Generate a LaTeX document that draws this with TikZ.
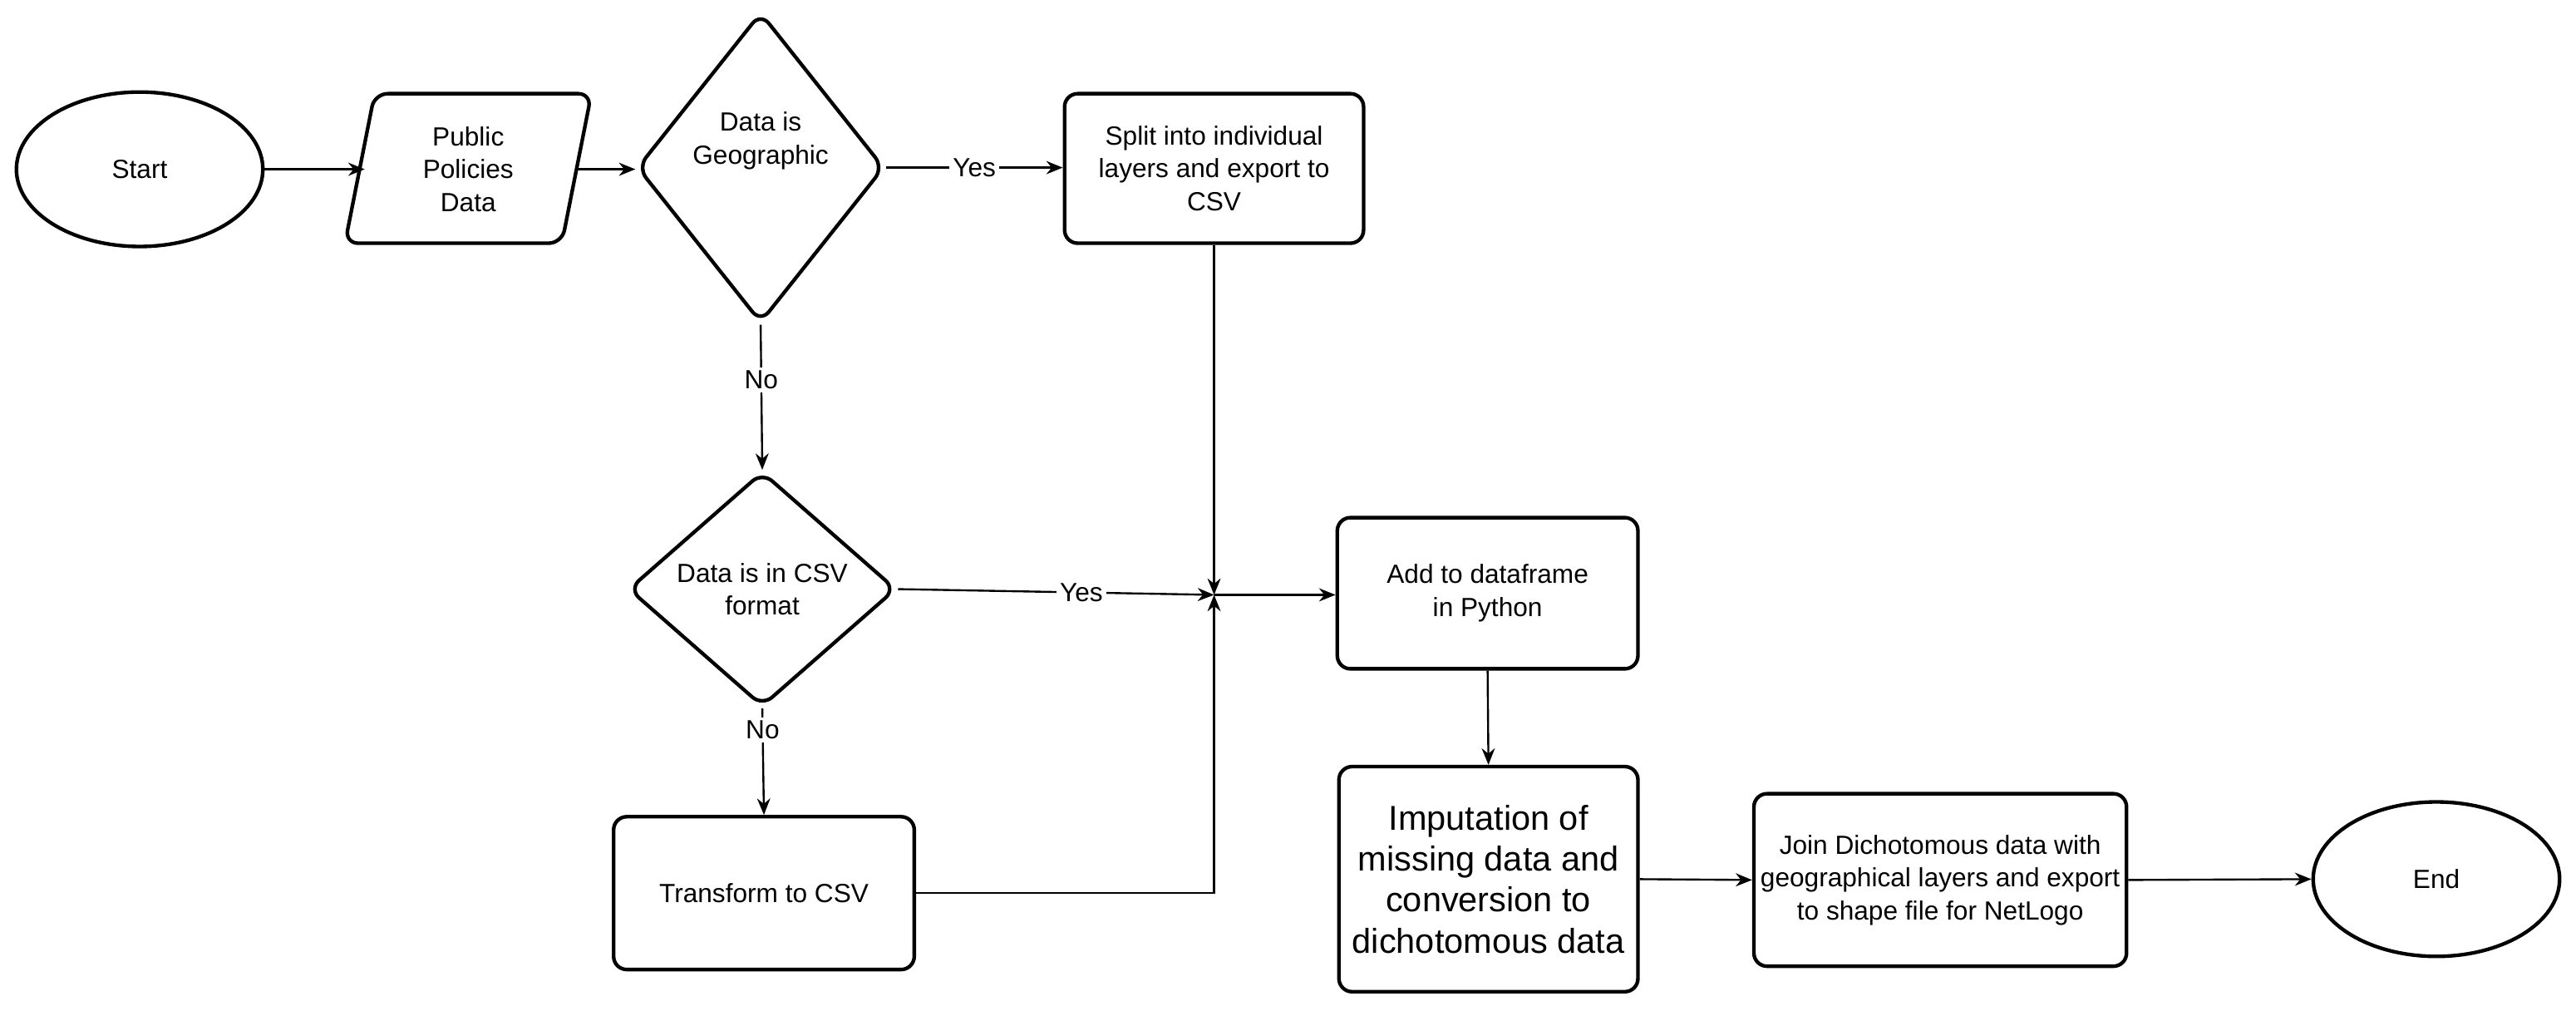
\documentclass[tikz,border=0pt]{standalone}
\usepackage{fontspec}
\setmainfont{Liberation Sans}
\usetikzlibrary{shapes.geometric,arrows.meta}
\begin{document}
\begin{tikzpicture}[x=0.5pt,y=-0.5pt,
  box/.style={draw,line width=1.1pt,rounded corners=4pt,align=center,font=\fontsize{8}{10}\selectfont,inner sep=2pt},
  term/.style={draw,line width=1.1pt,ellipse,minimum width=75pt,minimum height=47pt,font=\fontsize{8}{10}\selectfont},
  dia/.style={draw,line width=1.1pt,diamond,rounded corners=4pt,inner sep=0pt,align=center,font=\fontsize{8}{10}\selectfont},
  arr/.style={-{Stealth[length=5pt,width=4pt]},line width=0.6pt},
  lab/.style={fill=white,inner sep=1pt,font=\fontsize{8}{10}\selectfont}]
\useasboundingbox (0,0) rectangle (1568,618);
\node[term] (start) at (85,103) {Start};
\node[align=center,font=\fontsize{8}{10}\selectfont,minimum width=60pt,minimum height=45pt] (para) at (285,103) {Public\\Policies\\Data};
\draw[line width=1.1pt,rounded corners=4pt] (228,57) -- (360,57) -- (342,148) -- (210,148) -- cycle;
\node[dia,minimum width=74pt,minimum height=94.5pt] (d1) at (463,102) {Data is\\Geographic\\[8pt]};
\node[box,minimum width=91pt,minimum height=45.5pt] (split) at (739,102.5) {Split into individual\\layers and export to\\CSV};
\node[dia,minimum width=81.5pt,minimum height=71.5pt] (d2) at (464,358.5) {Data is in CSV\\format};
\node[box,minimum width=91.5pt,minimum height=46.5pt] (trans) at (465,543.5) {Transform to CSV};
\coordinate (j) at (739,362);
\node[box,minimum width=91.5pt,minimum height=46pt] (add) at (905.5,361) {Add to dataframe\\in Python};
\node[box,minimum width=91pt,minimum height=68.5pt,font=\fontsize{10.5}{12.5}\selectfont] (imp) at (906,535) {Imputation of\\missing data and\\conversion to\\dichotomous data};
\node[box,minimum width=94pt,minimum height=52.5pt] (join) at (1181,535.5) {Join Dichotomous data with\\geographical layers and export\\to shape file for NetLogo};
\node[term] (end) at (1483,535) {End};
\draw[arr] (start) -- (222,103);
\draw[arr] (351,103) -- (d1.west |- 0,103);
\draw[arr] (d1.east) -- node[lab]{Yes} (split.west |- d1.east);
\draw[arr] (d1.south) -- node[lab,pos=0.38]{No} (d2.north);
\draw[arr] (d2.south) -- node[lab,pos=0.2]{No} (trans.north);
\draw[arr] (split.south -| j) -- (j);
\draw[arr] (d2.east) -- node[lab,pos=0.58]{Yes} (j);
\draw[arr] (trans.east) -| (j);
\draw[arr] (j) -- (add.west |- j);
\draw[arr] (add.south) -- (imp.north);
\draw[arr] (imp.east) -- (join.west);
\draw[arr] (join.east) -- (end.west);
\end{tikzpicture}
\end{document}
